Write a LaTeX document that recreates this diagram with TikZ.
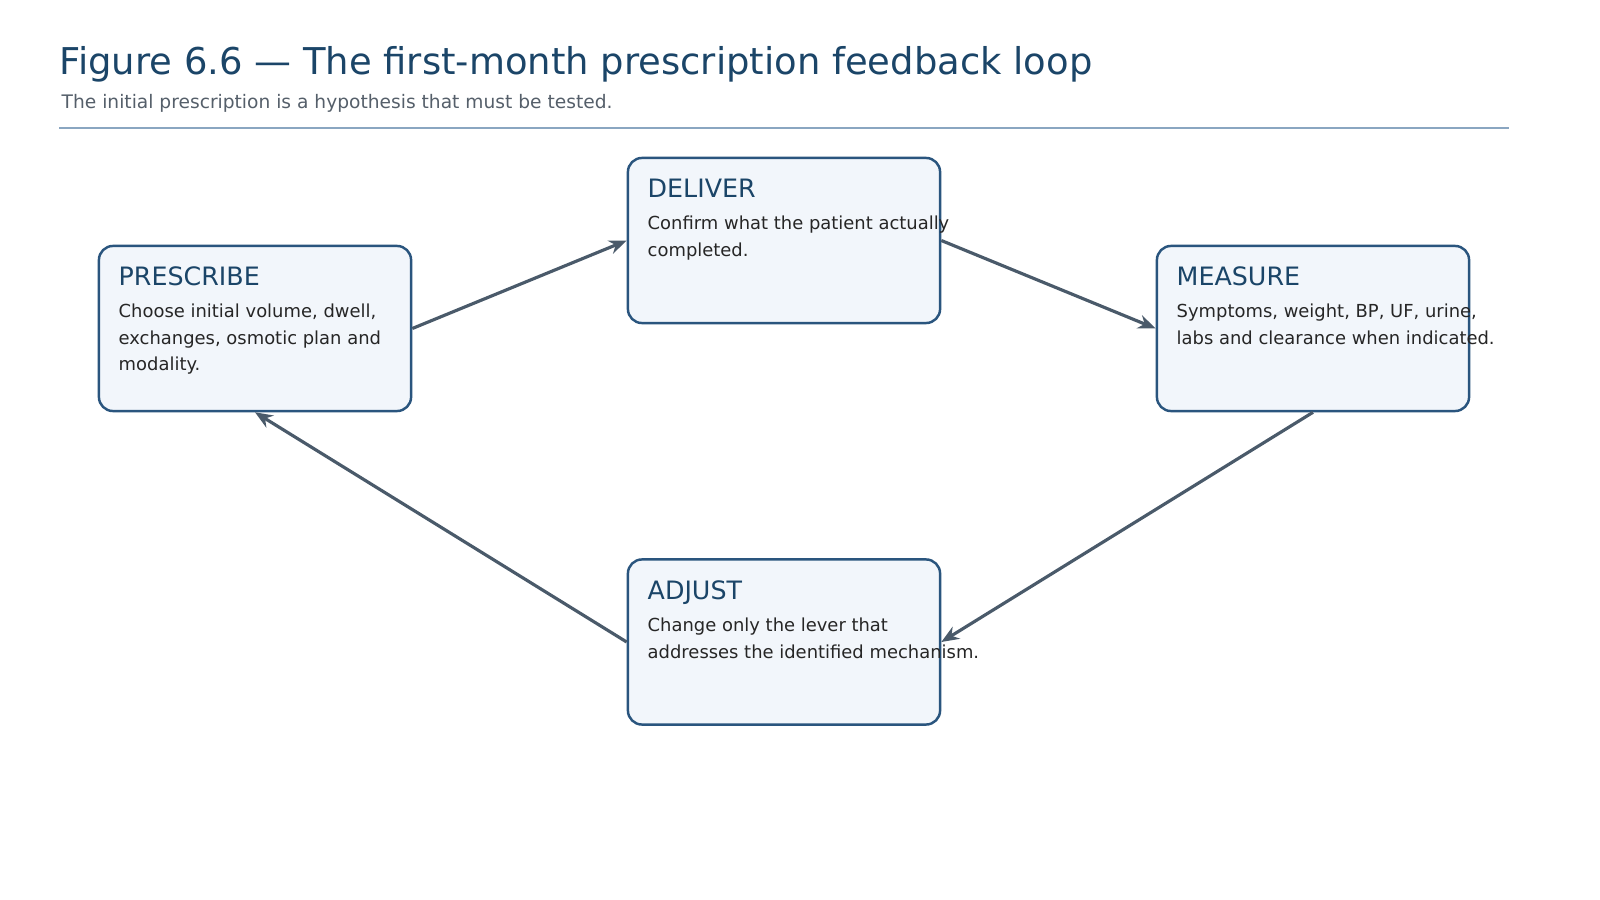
\documentclass[tikz,border=0pt]{standalone}
\usepackage{fontspec}
\setmainfont{DejaVu Sans}
\usetikzlibrary{arrows.meta}
\definecolor{titleblue}{HTML}{1B4568}
\definecolor{boxline}{HTML}{2A557E}
\definecolor{boxfill}{HTML}{F2F6FB}
\definecolor{arrowgray}{HTML}{4A5A6A}
\definecolor{subgray}{HTML}{555F6A}
\definecolor{rulecol}{HTML}{8AA6C1}

\begin{document}
\begin{tikzpicture}[
  x=0.01cm, y=-0.01cm,
  stage/.style={draw=boxline, line width=0.7pt, fill=boxfill, rounded corners=4pt,
                minimum width=3.12cm, minimum height=1.65cm},
  stagetitle/.style={anchor=base west, inner sep=0pt, text=titleblue, font=\fontsize{7.2}{8}\selectfont},
  stagebody/.style={anchor=north west, inner sep=0pt, align=left, text=black!85,
                   font=\fontsize{5.1}{7.6}\selectfont},
  arrow/.style={-{Stealth[length=5pt,width=4pt]}, arrowgray, line width=0.9pt}
]
\useasboundingbox (0,0) rectangle (1600,900);

% heading
\node[anchor=base west, inner sep=0pt, text=titleblue, font=\fontsize{10.5}{12}\selectfont]
  (title) at (59,74) {Figure 6.6 — The first-month prescription feedback loop};
\node[anchor=base west, inner sep=0pt, text=subgray, font=\fontsize{5.3}{6}\selectfont]
  (subtitle) at (61,108) {The initial prescription is a hypothesis that must be tested.};
\draw[rulecol, line width=0.5pt] (59,128) -- (1509,128);

% boxes
\node[stage] (prescribe) at (255,328.5) {};
\node[stage] (deliver) at (784,240.5) {};
\node[stage] (measure) at (1313,328.5) {};
\node[stage] (adjust) at (784,642) {};

% texts
\node[stagetitle] at (118,285) {PRESCRIBE};
\node[stagebody] at (118,303) {Choose initial volume, dwell,\\exchanges, osmotic plan and\\modality.};
\node[stagetitle] at (647,197) {DELIVER};
\node[stagebody] at (647,215) {Confirm what the patient actually\\completed.};
\node[stagetitle] at (1176,285) {MEASURE};
\node[stagebody] at (1176,303) {Symptoms, weight, BP, UF, urine,\\labs and clearance when indicated.};
\node[stagetitle] at (647,599) {ADJUST};
\node[stagebody] at (647,617) {Change only the lever that\\addresses the identified mechanism.};

% loop
\draw[arrow] (prescribe.east) -- (deliver.west);
\draw[arrow] (deliver.east) -- (measure.west);
\draw[arrow] (measure.south) -- (adjust.east);
\draw[arrow] (adjust.west) -- (prescribe.south);
\end{tikzpicture}
\end{document}
